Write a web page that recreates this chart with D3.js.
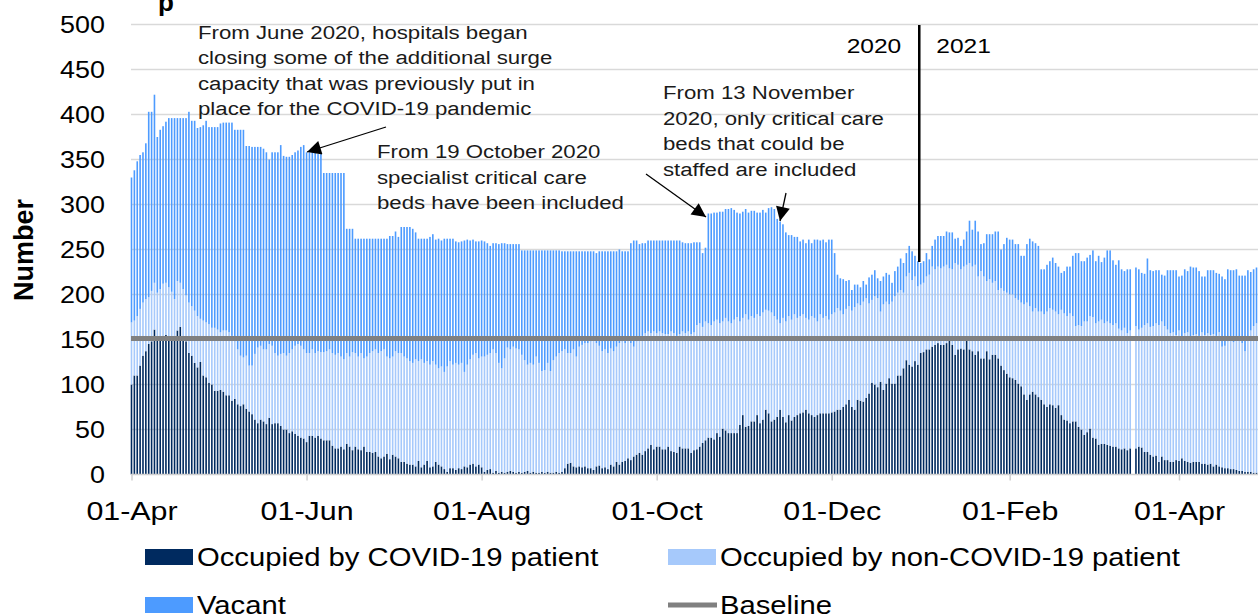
<!DOCTYPE html>
<html>
<head>
<meta charset="utf-8">
<script src="https://cdn.jsdelivr.net/npm/d3@7"></script>
<style>
  body { margin: 0; background: #fff; }
  svg { display: block; font-family: "Liberation Sans", Arial, sans-serif; }
</style>
</head>
<body>
<svg width="1258" height="616"></svg>
<script>
// daily values from 01-Apr-2020, one per day
const covid = [
  100,110,110,121,132,137,145,148,161,150, 152,154,155,153,152,154,160,164,152,148,
  135,132,124,119,125,110,108,102,100,93, 93,94,92,88,88,82,84,78,76,78,
  73,70,67,61,57,61,59,56,63,56, 57,57,54,50,50,46,48,45,43,41, 40,36,43,43,41,
  43,40,38,38,38,32,29,29,31,28, 34,31,27,31,28,27,31,25,25,24,
  25,20,18,20,23,17,22,20,18,14, 14,12,11,11,9,15,8,11,15,8,
  9,14,11,9,6,3,7,7,5,7, 6,9,8,11,12,9,11,8,3,5, 6,2,4,2,3,2,
  3,4,3,2,3,2,3,4,2,3, 2,2,3,2,3,2,2,3,2,3, 7,12,13,9,8,9,8,9,7,7,
  5,9,10,7,8,6,11,9,14,11, 14,15,18,16,20,22,24,22,26,29,
  33,28,31,31,28,28,31,26,25,24, 31,29,29,29,24,27,
  28,31,35,38,41,41,39,46,42,51, 49,46,46,46,46,55,66,53,54,59,
  59,66,57,61,72,68,59,61,64,72, 64,58,66,60,64,66,68,69,72,68,
  66,64,66,68,68,68,68,69,70,72, 72,75,78,83,75,72,83,82,81,85, 90,102,100,97,
  103,94,101,107,101,101,110,110,118,127, 122,120,126,122,135,136,139,139,142,144,
  146,144,144,146,150,144,133,139,140,139, 152,139,137,133,137,129,129,137,128,133,
  133,129,121,116,112,108,107,105,101,98, 89,83,89,92,89,86,83,78,75,78, 77,74,77,66,61,60,57,
  59,59,53,50,44,47,51,41,40,33, 34,34,33,32,31,31,29,28,29,27,
  29,0,29,31,30,25,25,22,20,21, 14,20,16,16,14,14,16,15,18,15,
  14,13,14,14,14,12,12,11,12,9, 11,9,8,7,7,6,6,5,4,4, 3,3,3,2,2
];
const nonCovid = [
  69,61,66,63,59,58,52,56,52,52, 54,58,58,55,51,41,55,49,54,51,
  56,55,58,57,48,61,61,65,63,70, 68,64,68,72,70,72,64,61,56,52,
  59,51,54,73,84,82,80,83,82,87, 78,75,80,85,82,89,91,98,102,102, 99,99,92,96,94,
  94,96,98,99,101,103,104,106,100,100, 101,100,109,104,103,108,98,106,110,113,
  114,115,119,119,108,112,109,117,117,121, 117,117,115,113,119,111,120,113,111,114,
  117,108,107,111,108,117,119,115,119,115, 118,105,114,117,121,126,118,123,128,128, 129,137,131,122,115,127,
  138,135,139,138,136,131,124,118,122,119, 129,122,112,114,121,113,125,128,133,134,
  132,123,122,130,123,133,136,137,139,141, 145,137,133,130,131,129,129,128,128,135,
  134,131,132,130,122,126,126,132,131,130, 124,131,126,128,129,128,125,133,132,130, 125,130,128,130,132,131,
  138,137,129,132,127,125,131,126,126,119, 125,124,122,126,129,115,108,125,118,117,
  115,112,119,119,111,114,121,115,108,96, 110,112,110,112,114,108,108,109,102,104,
  110,110,104,110,106,108,104,109,110,113, 110,103,106,104,107,114,107,106,111,111, 100,92,98,99,
  78,95,91,82,91,97,92,95,84,93, 102,96,94,87,76,77,81,83,89,84,
  85,85,87,87,79,84,102,94,88,92, 81,96,94,100,83,97,91,78,89,80,
  82,76,86,88,90,92,93,91,93,93, 100,108,98,89,96,95,98,100,106,107, 106,107,101,117,118,116,122,
  117,106,113,115,126,123,125,134,128,137, 138,134,137,136,135,137,133,132,134,130,
  131,0,136,130,133,141,143,142,145,147, 152,150,149,145,143,144,139,145,135,142,
  144,139,141,142,140,146,143,146,143,147, 143,149,134,136,141,144,141,147,146,142, 134,149,157,163,166
];
const vacant = [
  161,167,172,171,167,173,206,199,209,173, 177,175,179,188,193,201,181,183,190,197,
  212,206,211,209,213,217,224,219,223,223, 225,232,231,231,233,237,235,244,251,253,
  233,244,243,230,223,221,223,219,205,215, 223,226,232,219,221,218,216,215,215,221, 227,223,223,219,223,
  219,220,199,198,196,200,202,200,204,207, 138,142,137,127,131,127,133,131,127,125,
  123,127,125,123,131,136,134,133,129,140, 144,146,149,149,141,136,134,138,136,142,
  141,139,144,140,148,142,136,140,135,136, 135,146,139,132,128,124,130,129,128,124, 119,118,122,132,139,128,
  115,117,114,116,117,116,122,127,125,127, 118,125,134,133,125,134,122,118,114,111,
  109,113,113,109,117,106,104,102,102,100, 98,100,105,111,109,113,108,111,106,104,
  100,102,98,111,118,112,106,103,100,101, 103,101,103,101,103,104,104,101,103,106, 104,99,100,98,101,100,
  92,90,82,82,122,124,121,119,124,122, 121,125,128,122,116,120,118,117,119,117,
  119,113,115,114,108,114,117,119,112,113, 104,99,90,94,86,90,83,83,83,89,
  81,87,91,82,87,82,89,83,66,37, 36,39,31,29,23,25,21,20,23,15, 29,28,29,22,
  34,31,32,33,21,28,29,35,33,26, 30,32,23,28,24,24,26,17,23,33,
  34,36,34,37,40,41,27,30,26,30, 37,47,41,49,50,30,37,52,50,54,
  55,65,43,52,61,61,61,60,62,52, 54,65,75,78,72,73,47,50,52,52, 58,54,53,41,47,55,52,
  67,81,80,72,67,71,68,74,69,73, 64,73,79,81,72,65,76,68,63,71,
  68,0,65,67,61,57,72,63,61,59, 61,52,56,66,70,69,72,60,68,71,
  68,79,75,74,72,62,65,70,72,71, 70,65,78,74,80,77,80,76,71,75, 84,75,65,63,62
];
const baseline = 151;
const firstDay = "2020-04-01";
const xTickDates = ["2020-04-01","2020-06-01","2020-08-01","2020-10-01","2020-12-01","2021-02-01","2021-04-01"];
const yTicks = [0,50,100,150,200,250,300,350,400,450,500];
const seriesKeys = ["covid","nonCovid","vacant"];
const seriesNames = ["Occupied by COVID-19 patient","Occupied by non-COVID-19 patient","Vacant"];
const colours = {covid:"#002a5f", nonCovid:"#a6c9fb", vacant:"#4d9bff"};

const parse = d3.utcParse("%Y-%m-%d");
const start = parse(firstDay);
const days = d3.utcDay.range(start, d3.utcDay.offset(start, covid.length));
const rows = days.map((d,i)=>({date:d, covid:covid[i], nonCovid:nonCovid[i], vacant:vacant[i]}));
const stacked = d3.stack().keys(seriesKeys)(rows);

const x = d3.scaleUtc().domain([parse("2020-04-01"), parse("2021-04-01")]).range([131.5, 1179]);
const y = d3.scaleLinear().domain([0,500]).range([474.5, 24.5]);
const sx = 1.17; // the picture is a little wider than the fonts

const svg = d3.select("svg");

// grid
svg.append("g")
  .selectAll("line")
  .data(yTicks.filter(v=>v>0))
  .join("line")
  .attr("x1",131).attr("x2",1258)
  .attr("y1",d=>y(d)).attr("y2",d=>y(d))
  .style("stroke","#d9d9d9").style("stroke-width",1.5);

// y labels
const yAxis = svg.append("g")
  .attr("transform","translate(105,0)")
  .call(d3.axisLeft(y).tickValues(yTicks).tickSize(0).tickPadding(0));
yAxis.select(".domain").remove();
yAxis.selectAll("text")
  .attr("x",0).attr("dy",null).attr("y",8)
  .attr("transform","scale("+sx+",1)")
  .style("font-size","23px").style("font-family","Liberation Sans, Arial").style("fill","#000");

// bars
svg.append("g")
  .selectAll(".serie")
  .data(stacked)
  .join("g")
  .attr("class","serie")
  .style("fill",d=>colours[d.key])
  .selectAll("rect")
  .data(d=>d)
  .join("rect")
  .attr("x",d=>x(d.data.date)-0.8)
  .attr("width",1.6)
  .attr("y",d=>y(d[1]))
  .attr("height",d=>y(d[0])-y(d[1]));

// x axis
const xAxis = svg.append("g")
  .attr("transform","translate(0,474.5)")
  .call(d3.axisBottom(x).tickValues(xTickDates.map(parse)).tickFormat(d3.utcFormat("%d-%b")).tickSize(6).tickSizeOuter(0).tickPadding(20));
xAxis.select(".domain").attr("d","M131,0H1258").style("stroke","#d0d0d0").style("stroke-width",1.5);
xAxis.selectAll(".tick line").style("stroke","#d0d0d0").style("stroke-width",1.5);
xAxis.selectAll("text")
  .attr("dy",null).attr("y",45.5)
  .attr("transform","scale("+sx+",1)")
  .style("font-size","26px").style("font-family","Liberation Sans, Arial").style("fill","#000");

// baseline
svg.append("line")
  .attr("x1",131).attr("x2",1258)
  .attr("y1",y(baseline)).attr("y2",y(baseline))
  .style("stroke","#808080").style("stroke-width",5);

// y title
svg.append("text")
  .attr("transform","translate(33,250) rotate(-90)")
  .attr("text-anchor","middle")
  .style("font-size","27px").style("font-weight","bold")
  .text("Number");

// cut title letter at the very top
svg.append("text").attr("x",158).attr("y",11)
  .style("font-size","26px").style("font-weight","bold").text("p");

// year split
const split = d3.utcHour.offset(parse("2021-01-01"), -12);
svg.append("line")
  .attr("x1",x(split)).attr("x2",x(split))
  .attr("y1",25).attr("y2",262)
  .style("stroke","#000").style("stroke-width",2.5);
svg.append("text").attr("transform",`translate(${x(split)-18},53) scale(${sx},1)`)
  .attr("text-anchor","end").style("font-size","21px").text("2020");
svg.append("text").attr("transform",`translate(${x(split)+17},53) scale(${sx},1)`)
  .style("font-size","21px").text("2021");

// notes
const notes = [
  {x:198, y:38.5, lines:["From June 2020, hospitals began","closing some of the additional surge","capacity that was previously put in","place for the COVID-19 pandemic"]},
  {x:377, y:158, lines:["From 19 October 2020","specialist critical care","beds have been included"]},
  {x:663, y:99, lines:["From 13 November","2020, only critical care","beds that could be","staffed are included"]}
];
notes.forEach(n=>{
  n.lines.forEach((l,i)=>{
    svg.append("text")
      .attr("transform",`translate(${n.x},${n.y+i*25.5}) scale(${sx},1)`)
      .style("font-size","19px").style("fill","#1a1a1a")
      .text(l);
  });
});

svg.append("defs").append("marker")
  .attr("id","head").attr("viewBox","0 0 10 10")
  .attr("refX",10).attr("refY",5)
  .attr("markerWidth",17).attr("markerHeight",14)
  .attr("markerUnits","userSpaceOnUse")
  .attr("orient","auto")
  .append("path").attr("d","M0,0L10,5L0,10Z").style("fill","#000");

const arrows = [[386,127,307,152],[646,174,706,217],[786,193,780,221]];
svg.selectAll(".arrow")
  .data(arrows)
  .join("line")
  .attr("class","arrow")
  .attr("x1",d=>d[0]).attr("y1",d=>d[1])
  .attr("x2",d=>d[2]).attr("y2",d=>d[3])
  .style("stroke","#000").style("stroke-width",1.3)
  .attr("marker-end","url(#head)");

// legend
const legend = [
  {name:seriesNames[0], type:"box", fill:colours.covid, x:145, y:549},
  {name:seriesNames[1], type:"box", fill:colours.nonCovid, x:668, y:549},
  {name:seriesNames[2], type:"box", fill:colours.vacant, x:145, y:597},
  {name:"Baseline", type:"line", fill:"#808080", x:668, y:597}
];
const lg = svg.selectAll(".leg")
  .data(legend)
  .join("g")
  .attr("class","leg")
  .attr("transform",d=>`translate(${d.x},${d.y})`);
lg.filter(d=>d.type=="box").append("rect")
  .attr("width",48).attr("height",16)
  .style("fill",d=>d.fill);
lg.filter(d=>d.type=="line").append("line")
  .attr("x1",0).attr("x2",49).attr("y1",8).attr("y2",8)
  .style("stroke",d=>d.fill).style("stroke-width",5);
lg.append("text")
  .attr("transform",`translate(52,17) scale(${sx},1)`)
  .style("font-size","25px")
  .text(d=>d.name);
</script>
</body>
</html>
